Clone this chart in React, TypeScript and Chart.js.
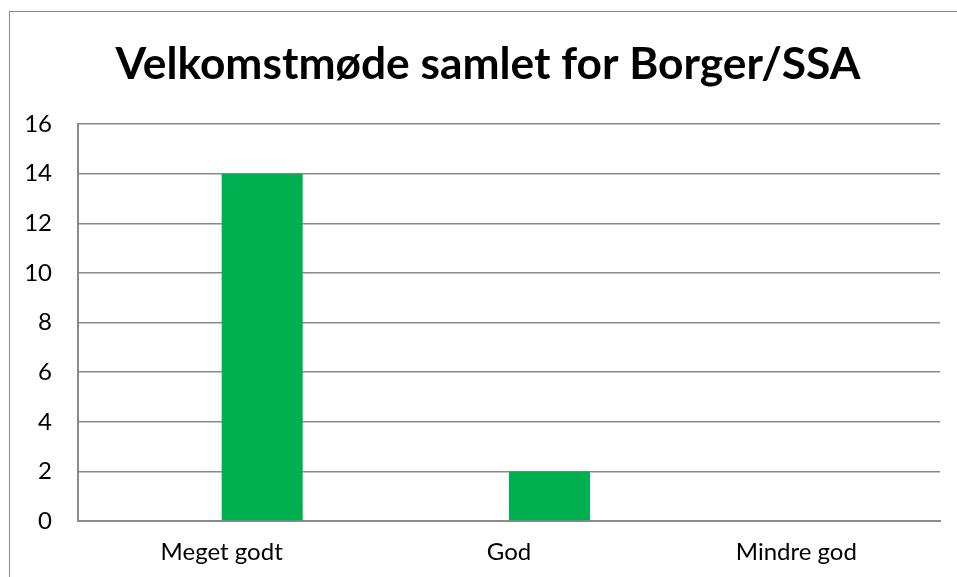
import React, { useEffect, useRef } from "react";
import { Chart, registerables } from "chart.js";

Chart.register(...registerables);

const categories: string[] = ["Meget godt", "God", "Mindre god"];
// Excel clustered chart: an empty first series sits left of the green one
const emptySeries: (number | null)[] = [null, null, null];
const values: number[] = [14, 2, 0];
const titleText = "Velkomstmøde samlet for Borger/SSA";
const yMin = 0;
const yMax = 16;
const yStep = 2;

const FONT = "Lato, 'Liberation Sans', sans-serif";
const GRID = "#8a8a8a";

export default function App() {
  const ref = useRef<HTMLCanvasElement | null>(null);

  useEffect(() => {
    if (!ref.current) return;
    const chart = new Chart(ref.current, {
      type: "bar",
      data: {
        labels: categories,
        datasets: [
          {
            data: emptySeries,
            backgroundColor: "rgba(0,0,0,0)",
            borderWidth: 0,
            barPercentage: 1,
            categoryPercentage: 0.564,
          },
          {
            data: values,
            backgroundColor: "#00B050",
            borderWidth: 0,
            barPercentage: 1,
            categoryPercentage: 0.564,
          },
        ],
      },
      options: {
        responsive: false,
        animation: false,
        layout: { padding: { left: 0, right: 0, top: 0, bottom: 0 } },
        plugins: {
          legend: { display: false },
          tooltip: { enabled: false },
          title: {
            display: true,
            text: titleText,
            color: "#000",
            font: { family: FONT, size: 44.3, weight: "bold", lineHeight: 1.2 },
            padding: { top: 27, bottom: 33 },
          },
        },
        scales: {
          x: {
            grid: { display: false, drawTicks: false },
            border: { display: true, color: GRID, width: 2 },
            ticks: {
              color: "#000",
              font: { family: FONT, size: 24 },
              padding: 17,
              maxRotation: 0,
            },
            afterFit: (s: any) => {
              s.height = 90;
            },
          },
          y: {
            min: yMin,
            max: yMax,
            grid: { color: GRID, lineWidth: 1.5, drawTicks: false },
            border: { display: true, color: GRID, width: 2 },
            ticks: {
              stepSize: yStep,
              color: "#000",
              font: { family: FONT, size: 24 },
              padding: 26,
            },
            afterFit: (s: any) => {
              s.width = 83;
            },
          },
          spacer: {
            type: "linear",
            position: "right",
            display: true,
            grid: { display: false, drawTicks: false },
            border: { display: false },
            ticks: { display: false },
            afterFit: (s: any) => {
              s.width = 41;
            },
          },
        },
      },
    });
    return () => chart.destroy();
  }, []);

  return (
    <div
      style={{
        position: "fixed",
        left: 0,
        top: 0,
        width: 957,
        height: 577,
        overflow: "hidden",
        background: "#fff",
      }}
    >
      <canvas
        ref={ref}
        width={986}
        height={600}
        style={{ position: "absolute", left: -5, top: 11, width: 986, height: 600 }}
      />
      <div
        style={{
          position: "absolute",
          left: 9,
          top: 11,
          width: 948,
          height: 566,
          borderLeft: "1.5px solid #8a8a8a",
          borderTop: "1.5px solid #8a8a8a",
          boxSizing: "border-box",
          pointerEvents: "none",
        }}
      />
    </div>
  );
}
